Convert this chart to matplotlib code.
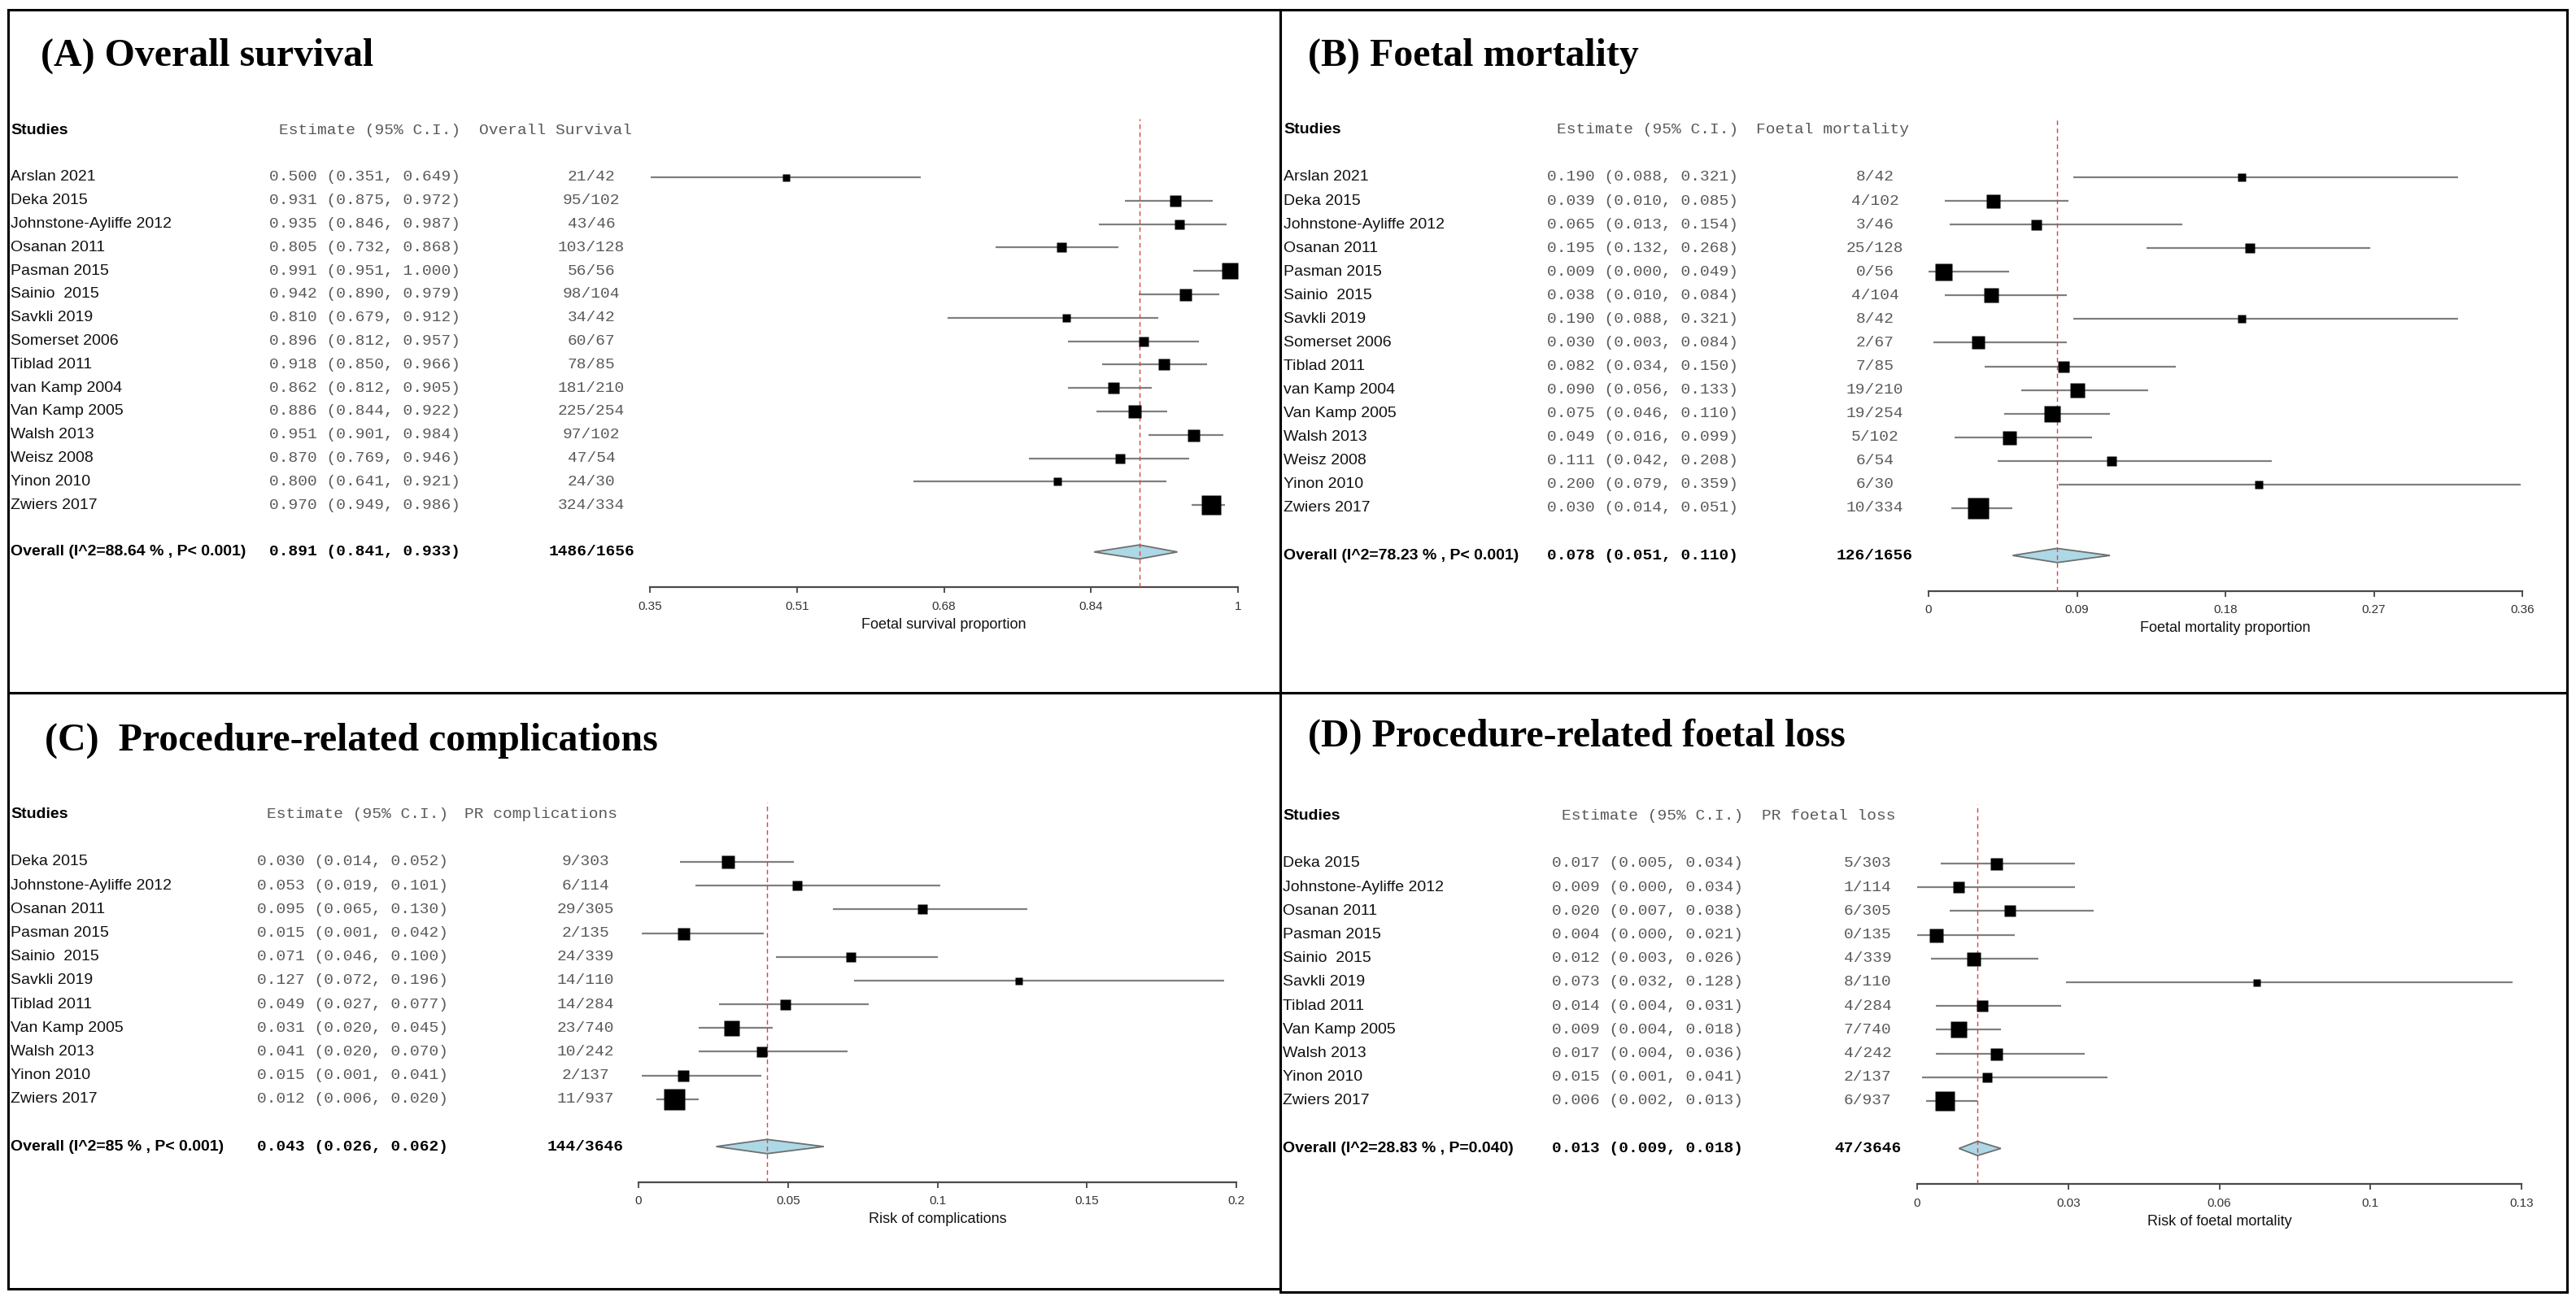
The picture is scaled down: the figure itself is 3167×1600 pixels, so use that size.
import matplotlib
matplotlib.use("Agg")
import matplotlib.pyplot as plt
import matplotlib.transforms as mtransforms
from matplotlib.patches import Rectangle, Polygon
import numpy as np

plt.rcParams['font.family'] = ['Liberation Sans', 'DejaVu Sans']

W, H = 3167, 1600

# ---------------- (A) Overall survival ----------------
names_a = ["Arslan 2021", "Deka 2015", "Johnstone-Ayliffe 2012", "Osanan 2011",
           "Pasman 2015", "Sainio  2015", "Savkli 2019", "Somerset 2006",
           "Tiblad 2011", "van Kamp 2004", "Van Kamp 2005", "Walsh 2013",
           "Weisz 2008", "Yinon 2010", "Zwiers 2017"]
est_a = [0.500, 0.931, 0.935, 0.805, 0.991, 0.942, 0.810, 0.896, 0.918, 0.862,
         0.886, 0.951, 0.870, 0.800, 0.970]
lo_a = [0.351, 0.875, 0.846, 0.732, 0.951, 0.890, 0.679, 0.812, 0.850, 0.812,
        0.844, 0.901, 0.769, 0.641, 0.949]
hi_a = [0.649, 0.972, 0.987, 0.868, 1.000, 0.979, 0.912, 0.957, 0.966, 0.905,
        0.922, 0.984, 0.946, 0.921, 0.986]
counts_a = ["21/42", "95/102", "43/46", "103/128", "56/56", "98/104", "34/42",
            "60/67", "78/85", "181/210", "225/254", "97/102", "47/54", "24/30",
            "324/334"]
wt_a = [9, 14, 12, 12.5, 20, 15, 10, 12.5, 13.5, 14, 16, 15, 11.5, 9.5, 24]
overall_a = [0.891, 0.841, 0.933]
ovlab_a = "Overall (I^2=88.64 % , P< 0.001)"
ovcount_a = "1486/1656"
ticks_a = ["0.35", "0.51", "0.68", "0.84", "1"]

# ---------------- (B) Foetal mortality ----------------
names_b = names_a
est_b = [0.190, 0.039, 0.065, 0.195, 0.009, 0.038, 0.190, 0.030, 0.082, 0.090,
         0.075, 0.049, 0.111, 0.200, 0.030]
lo_b = [0.088, 0.010, 0.013, 0.132, 0.000, 0.010, 0.088, 0.003, 0.034, 0.056,
        0.046, 0.016, 0.042, 0.079, 0.014]
hi_b = [0.321, 0.085, 0.154, 0.268, 0.049, 0.084, 0.321, 0.084, 0.150, 0.133,
        0.110, 0.099, 0.208, 0.359, 0.051]
counts_b = ["8/42", "4/102", "3/46", "25/128", "0/56", "4/104", "8/42", "2/67",
            "7/85", "19/210", "19/254", "5/102", "6/54", "6/30", "10/334"]
wt_b = [10, 17, 13, 12.5, 21, 17.5, 10, 16, 14, 17.5, 19.5, 17, 12.5, 10, 25.5]
overall_b = [0.078, 0.051, 0.110]
ovlab_b = "Overall (I^2=78.23 % , P< 0.001)"
ovcount_b = "126/1656"
ticks_b = ["0", "0.09", "0.18", "0.27", "0.36"]

# ---------------- (C) Procedure-related complications ----------------
names_c = ["Deka 2015", "Johnstone-Ayliffe 2012", "Osanan 2011", "Pasman 2015",
           "Sainio  2015", "Savkli 2019", "Tiblad 2011", "Van Kamp 2005",
           "Walsh 2013", "Yinon 2010", "Zwiers 2017"]
est_c = [0.030, 0.053, 0.095, 0.015, 0.071, 0.127, 0.049, 0.031, 0.041, 0.015, 0.012]
lo_c = [0.014, 0.019, 0.065, 0.001, 0.046, 0.072, 0.027, 0.020, 0.020, 0.001, 0.006]
hi_c = [0.052, 0.101, 0.130, 0.042, 0.100, 0.196, 0.077, 0.045, 0.070, 0.041, 0.020]
counts_c = ["9/303", "6/114", "29/305", "2/135", "24/339", "14/110", "14/284",
            "23/740", "10/242", "2/137", "11/937"]
wt_c = [16, 11.5, 12.5, 15, 12.7, 9, 13, 19, 13, 14, 25.5]
overall_c = [0.043, 0.026, 0.062]
ovlab_c = "Overall (I^2=85 % , P< 0.001)"
ovcount_c = "144/3646"
ticks_c = ["0", "0.05", "0.1", "0.15", "0.2"]

# ---------------- (D) Procedure-related foetal loss ----------------
names_d = names_c
est_d = [0.017, 0.009, 0.020, 0.004, 0.012, 0.073, 0.014, 0.009, 0.017, 0.015, 0.006]
lo_d = [0.005, 0.000, 0.007, 0.000, 0.003, 0.032, 0.004, 0.004, 0.004, 0.001, 0.002]
hi_d = [0.034, 0.034, 0.038, 0.021, 0.026, 0.128, 0.031, 0.018, 0.036, 0.041, 0.013]
counts_d = ["5/303", "1/114", "6/305", "0/135", "4/339", "8/110", "4/284",
            "7/740", "4/242", "2/137", "6/937"]
wt_d = [15, 14, 14.5, 17, 17, 9, 14, 20, 15, 12, 24]
overall_d = [0.013, 0.009, 0.018]
ovlab_d = "Overall (I^2=28.83 % , P=0.040)"
ovcount_d = "47/3646"
ticks_d = ["0", "0.03", "0.06", "0.1", "0.13"]


def fx(px):
    return px / W


def fy(px):
    return 1 - px / H


fig = plt.figure(figsize=(W / 100, H / 100), dpi=100)
fig.patch.set_facecolor('white')

GREY_TXT = '#5a5a5a'
MONO = 'Liberation Mono'


def forest(names, est, lo, hi, counts, wts, overall, ovlab, ovcount,
           xlim, ticklabels, xlabel, head2, title, lay):
    n = len(names)
    x0, x1 = lay['axis_x']
    row0, dy = lay['row0'], lay['dy']
    top = row0 - 2.5 * dy
    bottom = row0 + (n + 2.5) * dy
    ax = fig.add_axes([fx(x0), fy(bottom), (x1 - x0) / W, (bottom - top) / H])
    ax.set_facecolor('none')
    ax.set_xlim(*xlim)
    ax.set_ylim(n + 2.5, -2.5)
    for s in ['top', 'left', 'right']:
        ax.spines[s].set_visible(False)
    ax.spines['bottom'].set_color('#4a4a4a')
    ax.spines['bottom'].set_linewidth(1.6)
    ax.set_yticks([])
    ax.set_xticks(np.linspace(xlim[0], xlim[1], len(ticklabels)))
    ax.set_xticklabels(ticklabels)
    ax.tick_params(axis='x', direction='out', length=5, width=1.2,
                   colors='#333333', labelsize=11, pad=7)
    ax.set_xlabel(xlabel, fontsize=13, labelpad=5, color='#111111')

    y = np.arange(n)
    ax.hlines(y, lo, hi, color='#7f7f7f', lw=1.6, zorder=2)
    for i in range(n):
        ax.plot(est[i], y[i], marker='s', ms=wts[i] * 0.72, color='black',
                mec='none', ls='none', zorder=4)

    oy = n + 1
    dia = Polygon([[overall[1], oy], [overall[0], oy - 0.3],
                   [overall[2], oy], [overall[0], oy + 0.3]],
                  closed=True, fc='#add8e6', ec='#6f6f6f', lw=1.3, zorder=2)
    ax.add_patch(dia)
    ax.axvline(overall[0], color='#e0403a', lw=1.0, ls=(0, (4, 3)), zorder=3)

    tr = mtransforms.blended_transform_factory(fig.transFigure, ax.transData)
    nx, er, h2, cc = lay['name_x'], lay['est_r'], lay['head2_x'], lay['count_c']
    # header
    ax.text(fx(nx), -2, "Studies", transform=tr, fontsize=14, fontweight='bold',
            va='center', ha='left')
    ax.text(fx(er), -2, "Estimate (95% C.I.)", transform=tr, fontsize=14,
            family=MONO, color=GREY_TXT, va='center', ha='right')
    ax.text(fx(h2), -2, head2, transform=tr, fontsize=14, family=MONO,
            color=GREY_TXT, va='center', ha='left')
    for i in range(n):
        ax.text(fx(nx), y[i], names[i], transform=tr, fontsize=14,
                va='center', ha='left', color='#111111')
        ax.text(fx(er), y[i], "%.3f (%.3f, %.3f)" % (est[i], lo[i], hi[i]),
                transform=tr, fontsize=14, family=MONO, color=GREY_TXT,
                va='center', ha='right')
        ax.text(fx(cc), y[i], counts[i], transform=tr, fontsize=14,
                family=MONO, color=GREY_TXT, va='center', ha='center')
    ax.text(fx(nx), oy, ovlab, transform=tr, fontsize=14, fontweight='bold',
            va='center', ha='left')
    ax.text(fx(er), oy, "%.3f (%.3f, %.3f)" % tuple(overall), transform=tr,
            fontsize=14, family=MONO, fontweight='bold', va='center', ha='right')
    ax.text(fx(cc), oy, ovcount, transform=tr, fontsize=14, family=MONO,
            fontweight='bold', va='center', ha='center')

    fig.text(fx(lay['title'][0]), fy(lay['title'][1]), title, fontsize=34.5,
             fontweight='bold', family='Liberation Serif', va='baseline',
             ha='left')
    return ax


lay_a = dict(axis_x=(799, 1522), row0=218, dy=28.8, name_x=13, est_r=566,
             head2_x=589, count_c=727, title=(50, 81))
lay_b = dict(axis_x=(2371, 3101), row0=218, dy=29.07, name_x=1578, est_r=2137,
             head2_x=2159, count_c=2305, title=(1608, 81))
lay_c = dict(axis_x=(785, 1520), row0=1060, dy=29.17, name_x=13, est_r=551,
             head2_x=571, count_c=720, title=(55, 923))
lay_d = dict(axis_x=(2357, 3100), row0=1062, dy=29.2, name_x=1577, est_r=2143,
             head2_x=2166, count_c=2296, title=(1608, 918))

forest(names_a, est_a, lo_a, hi_a, counts_a, wt_a, overall_a, ovlab_a, ovcount_a,
       (0.35, 1.0), ticks_a, "Foetal survival proportion", "Overall Survival",
       "(A) Overall survival", lay_a)
forest(names_b, est_b, lo_b, hi_b, counts_b, wt_b, overall_b, ovlab_b, ovcount_b,
       (0.0, 0.36), ticks_b, "Foetal mortality proportion", "Foetal mortality",
       "(B) Foetal mortality", lay_b)
forest(names_c, est_c, lo_c, hi_c, counts_c, wt_c, overall_c, ovlab_c, ovcount_c,
       (0.0, 0.2), ticks_c, "Risk of complications", "PR complications",
       "(C)  Procedure-related complications", lay_c)
forest(names_d, est_d, lo_d, hi_d, counts_d, wt_d, overall_d, ovlab_d, ovcount_d,
       (0.0, 0.13), ticks_d, "Risk of foetal mortality", "PR foetal loss",
       "(D) Procedure-related foetal loss", lay_d)

# panel frames
for (l, t, r, b) in [(10, 12, 1574, 852), (1574, 12, 3156, 852),
                     (10, 852, 1574, 1585), (1574, 852, 3156, 1589)]:
    fig.add_artist(Rectangle((fx(l), fy(b)), (r - l) / W, (b - t) / H,
                             transform=fig.transFigure, fill=False,
                             lw=2.2, ec='black'))

fig.savefig("out.png", dpi=100, facecolor='white')
